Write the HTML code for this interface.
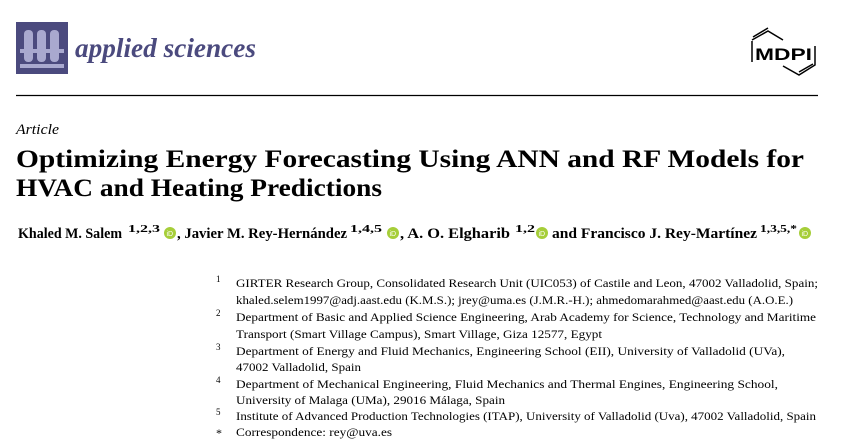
<!DOCTYPE html>
<html><head><meta charset="utf-8"><style>
html,body{margin:0;padding:0;background:#fff;width:850px;height:448px;overflow:hidden}
svg{display:block}
</style></head><body>
<svg width="850" height="448" viewBox="0 0 850 448" xmlns="http://www.w3.org/2000/svg">
<rect width="850" height="448" fill="#fff"/>
<rect x="16" y="22" width="52" height="52" fill="#4b4a7e"/>
<g fill="#a9a9cf">
<rect x="20" y="49" width="44" height="4"/>
<rect x="20" y="64" width="44" height="4"/>
<rect x="24" y="30" width="9" height="32" rx="4"/>
<rect x="37" y="30" width="9" height="32" rx="4"/>
<rect x="50" y="30" width="9" height="32" rx="4"/>
</g>
<text x="75" y="57" font-family="Liberation Serif, serif" font-style="italic" font-weight="bold" font-size="27" fill="#4b4a7e" textLength="181" lengthAdjust="spacingAndGlyphs">applied sciences</text>
<line x1="16" y1="95.5" x2="818" y2="95.5" stroke="#000" stroke-width="1.2"/>
<g fill="none" stroke="#000" stroke-width="1.5">
<polyline points="752,40 768,31 783,40"/>
<polyline points="753,37 768,28"/>
<line x1="752" y1="41" x2="752" y2="62"/>
<polyline points="815,46 815,65 799,75 783,66"/>
<polyline points="799,72 813,64"/>
</g>
<text x="755" y="60" font-family="Liberation Sans, sans-serif" font-weight="bold" font-size="17" fill="#000" textLength="57" lengthAdjust="spacingAndGlyphs">MDPI</text>
<text x="16" y="134" font-family="Liberation Serif, serif" font-style="italic" font-size="15" fill="#000" textLength="43" lengthAdjust="spacingAndGlyphs">Article</text>
<g font-family="Liberation Serif, serif" font-weight="bold" font-size="25" fill="#000">
<text x="16" y="167" textLength="788" lengthAdjust="spacingAndGlyphs">Optimizing Energy Forecasting Using ANN and RF Models for</text>
<text x="16" y="196" textLength="366" lengthAdjust="spacingAndGlyphs">HVAC and Heating Predictions</text>
</g>
<g font-family="Liberation Serif, serif" font-weight="bold" font-size="15" fill="#000">
<text x="18" y="238" textLength="104" lengthAdjust="spacingAndGlyphs">Khaled M. Salem</text>
<text x="128" y="232" font-size="10" textLength="32" lengthAdjust="spacingAndGlyphs">1,2,3</text>
<text x="177" y="238" textLength="170" lengthAdjust="spacingAndGlyphs">, Javier M. Rey-Hernández</text>
<text x="350" y="232" font-size="10" textLength="32" lengthAdjust="spacingAndGlyphs">1,4,5</text>
<text x="400" y="238" textLength="110" lengthAdjust="spacingAndGlyphs">, A. O. Elgharib</text>
<text x="515" y="232" font-size="10" textLength="20" lengthAdjust="spacingAndGlyphs">1,2</text>
<text x="552" y="238" textLength="205" lengthAdjust="spacingAndGlyphs">and Francisco J. Rey-Martínez</text>
<text x="760" y="232" font-size="10" textLength="37" lengthAdjust="spacingAndGlyphs">1,3,5,*</text>
</g>
<g fill="#a6ce39">
<circle cx="170" cy="233" r="6"/><circle cx="393" cy="233" r="6"/>
<circle cx="542" cy="233" r="6"/><circle cx="805" cy="233" r="6"/>
</g>
<g fill="#fff" font-family="Liberation Sans, sans-serif" font-size="7">
<text x="166.5" y="236">iD</text><text x="389.5" y="236">iD</text><text x="538.5" y="236">iD</text><text x="801.5" y="236">iD</text>
</g>
<g font-family="Liberation Serif, serif" font-size="12" fill="#000">
<text x="216" y="282" font-size="9">1</text>
<text x="236" y="287" textLength="582" lengthAdjust="spacingAndGlyphs">GIRTER Research Group, Consolidated Research Unit (UIC053) of Castile and Leon, 47002 Valladolid, Spain;</text>
<text x="236" y="304" textLength="557" lengthAdjust="spacingAndGlyphs">khaled.selem1997@adj.aast.edu (K.M.S.); jrey@uma.es (J.M.R.-H.); ahmedomarahmed@aast.edu (A.O.E.)</text>
<text x="216" y="316" font-size="9">2</text>
<text x="236" y="321" textLength="580" lengthAdjust="spacingAndGlyphs">Department of Basic and Applied Science Engineering, Arab Academy for Science, Technology and Maritime</text>
<text x="236" y="338" textLength="366" lengthAdjust="spacingAndGlyphs">Transport (Smart Village Campus), Smart Village, Giza 12577, Egypt</text>
<text x="216" y="350" font-size="9">3</text>
<text x="236" y="355" textLength="549" lengthAdjust="spacingAndGlyphs">Department of Energy and Fluid Mechanics, Engineering School (EII), University of Valladolid (UVa),</text>
<text x="236" y="371" textLength="125" lengthAdjust="spacingAndGlyphs">47002 Valladolid, Spain</text>
<text x="216" y="383" font-size="9">4</text>
<text x="236" y="388" textLength="542" lengthAdjust="spacingAndGlyphs">Department of Mechanical Engineering, Fluid Mechanics and Thermal Engines, Engineering School,</text>
<text x="236" y="404" textLength="269" lengthAdjust="spacingAndGlyphs">University of Malaga (UMa), 29016 Málaga, Spain</text>
<text x="216" y="415" font-size="9">5</text>
<text x="236" y="420" textLength="580" lengthAdjust="spacingAndGlyphs">Institute of Advanced Production Technologies (ITAP), University of Valladolid (Uva), 47002 Valladolid, Spain</text>
<text x="216" y="437">*</text>
<text x="236" y="436" textLength="156" lengthAdjust="spacingAndGlyphs">Correspondence: rey@uva.es</text>
</g>
</svg>
</body></html>
